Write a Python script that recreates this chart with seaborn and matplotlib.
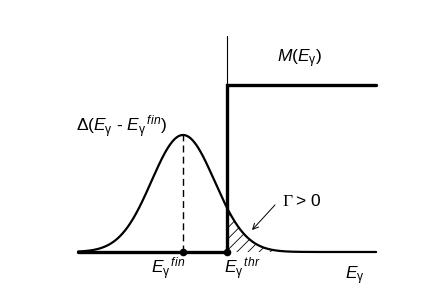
import numpy as np
import pandas as pd
import matplotlib
matplotlib.use("Agg")
import matplotlib.pyplot as plt
import seaborn as sns

# schematic parameters (energies in units of the resolution width)
e_fin = 0.0          # centre of the resolution function
e_thr = 1.40         # threshold energy
sigma = 1.0
e_range = [-3.33, 6.13]
peak_height = 1.0
m_height = 1.43      # height of the M(E) step
axis_top = 1.85      # top of the thin vertical line at threshold

sns.set_style("white")
plt.rcParams['mathtext.fontset'] = 'custom'
plt.rcParams['mathtext.rm'] = 'Liberation Sans'
plt.rcParams['mathtext.it'] = 'Liberation Sans:italic'
plt.rcParams['font.family'] = ['Liberation Sans', 'DejaVu Sans']
plt.rcParams['text.color'] = 'black'
plt.rcParams['hatch.linewidth'] = 0.6

fig = plt.figure(figsize=(4.36, 3.01), dpi=100)
ax = fig.add_axes([0, 0, 1, 1])

# resolution function
e = np.linspace(e_range[0], e_range[1], 600)
g = peak_height * np.exp(-(e - e_fin) ** 2 / (2 * sigma ** 2))
df = pd.DataFrame({"E": e, "D": g})
sns.lineplot(data=df, x="E", y="D", color="black", lw=1.6, ax=ax, sort=False)

# hatched part above threshold
mask = e >= e_thr
ax.fill_between(e[mask], 0, g[mask], facecolor="none", edgecolor="black",
                hatch="///", lw=0)

# M(E) step and baseline
ax.plot([e_range[0], e_thr, e_thr, e_range[1]], [0, 0, m_height, m_height],
        color="black", lw=2.4, solid_joinstyle="miter")
ax.plot([e_thr, e_thr], [0, axis_top], color="black", lw=0.8)
ax.plot([e_fin, e_fin], [0, peak_height], color="black", lw=1.0, ls=(0, (5, 3)))

sns.scatterplot(x=[e_fin, e_thr], y=[0, 0], color="black", s=30, ax=ax,
                zorder=5, linewidth=0)

fs = 12.5
g_sub = r"_{\mathrm{\gamma}}"
ax.text(3.71, 1.65, r"$M(E" + g_sub + ")$", fontsize=fs, ha="center", va="center")
ax.text(-1.94, 1.07, r"$\Delta(E" + g_sub + r"$ - $E" + g_sub + r"{}^{\,fin})$",
        fontsize=fs, ha="center", va="center")
ax.text(-1.02, -0.14, r"$E" + g_sub + r"{}^{\,fin}$", fontsize=fs, ha="left", va="center")
ax.text(1.30, -0.14, r"$E" + g_sub + r"{}^{\,thr}$", fontsize=fs, ha="left", va="center")
ax.text(5.14, -0.20, r"$E" + g_sub + "$", fontsize=fs, ha="left", va="center")
ax.text(3.17, 0.43, "Γ", fontsize=fs, family="Liberation Serif", ha="left", va="center")
ax.text(3.58, 0.43, "> 0", fontsize=fs, ha="left", va="center")
ax.annotate("", xy=(2.13, 0.17), xytext=(2.98, 0.42),
            arrowprops=dict(arrowstyle="->", color="black", lw=0.7))

ax.set_xlim(-5.81, 8.03)
ax.set_ylim(-0.419, 2.154)
ax.axis("off")
fig.savefig("out.png", dpi=100)
